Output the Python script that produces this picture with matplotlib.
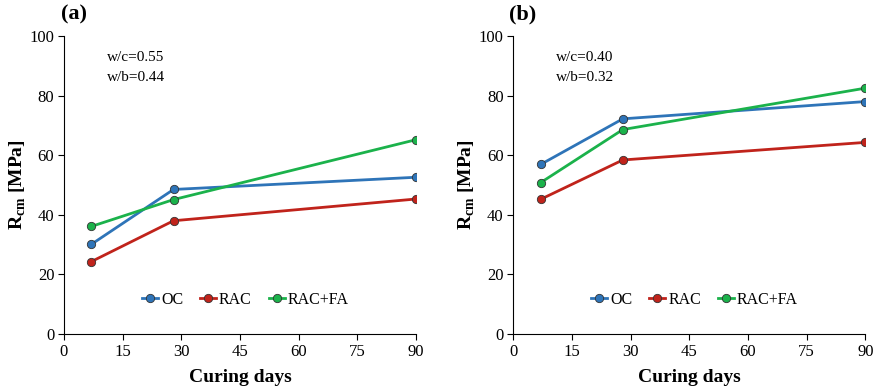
import numpy as np
import matplotlib
matplotlib.use("Agg")
import matplotlib.pyplot as plt

plt.rcParams['font.family'] = ['Liberation Serif', 'DejaVu Serif']
plt.rcParams['mathtext.fontset'] = 'custom'
plt.rcParams['mathtext.rm'] = 'Liberation Serif'
plt.rcParams['mathtext.bf'] = 'Liberation Serif:bold'

days = [7, 28, 90]
series = ['OC', 'RAC', 'RAC+FA']
colors = ['#2e74b8', '#c0231b', '#1bb24b']

# panel (a): w/c=0.55
oc_a = [30.1, 48.5, 52.6]
rac_a = [24.3, 38.0, 45.3]
racfa_a = [36.1, 45.1, 65.2]
# panel (b): w/c=0.40
oc_b = [56.9, 72.2, 78.0]
rac_b = [45.2, 58.4, 64.3]
racfa_b = [50.8, 68.6, 82.5]

panels = [
    ('(a)', 'w/c=0.55\nw/b=0.44', [oc_a, rac_a, racfa_a]),
    ('(b)', 'w/c=0.40\nw/b=0.32', [oc_b, rac_b, racfa_b]),
]
xticks = [0, 15, 30, 45, 60, 75, 90]
yticks = [0, 20, 40, 60, 80, 100]

fig = plt.figure(figsize=(8.8, 3.92), dpi=100)
lefts = [64/880, 513.3/880]

for left, (tag, note, data) in zip(lefts, panels):
    ax = fig.add_axes([left, 58/392, 352/880, 298/392])
    for name, c, vals in zip(series, colors, data):
        ax.plot(days, vals, color=c, lw=2, marker='o', ms=6,
                mfc=c, mec='#333333', mew=0.6, label=name)
    ax.set_xlim(0, 90)
    ax.set_ylim(0, 100)
    ax.set_xticks(xticks)
    ax.set_yticks(yticks)
    ax.spines['top'].set_visible(False)
    ax.spines['right'].set_visible(False)
    ax.tick_params(labelsize=12, length=4, width=0.8, direction='out', pad=3)
    ax.set_xlabel('Curing days', fontsize=14, fontweight='bold', labelpad=7)
    ax.set_ylabel(r'R$_{\mathbf{cm}}$ [MPa]', fontsize=14, fontweight='bold', labelpad=1)
    ax.text(11, 94.8, note, fontsize=11, va='top', linespacing=1.65)
    ax.text(0.027, 1.04, tag, transform=ax.transAxes, fontsize=16,
            fontweight='bold', ha='center', va='bottom')
    ax.legend(loc='center', bbox_to_anchor=(0.515, 0.115), ncol=3, frameon=False,
              fontsize=11.5, handlelength=1.0, handletextpad=0.2, columnspacing=1.05)

fig.savefig('out.png', dpi=100)
